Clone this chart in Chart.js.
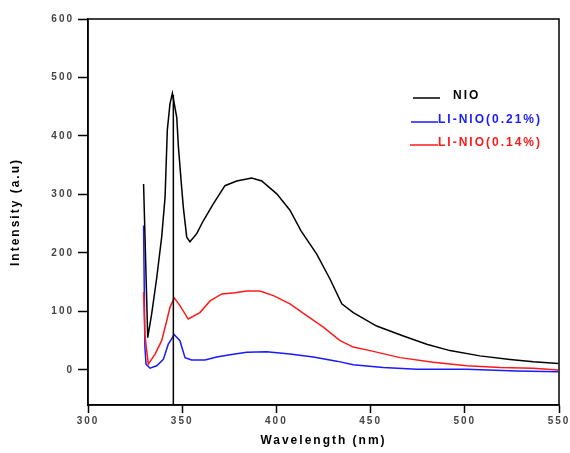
<!DOCTYPE html>
<html>
<head>
<meta charset="utf-8">
<script src="https://cdn.jsdelivr.net/npm/chart.js@4.4.1/dist/chart.umd.min.js"></script>
<style>
  html, body { margin: 0; padding: 0; background: #fff; }
  #wrap { width: 570px; height: 453px; }
</style>
</head>
<body>
<div id="wrap"><canvas id="pl"></canvas></div>
<script>
// values (wavelength in nm, intensity in a.u.)
const nioX  = [329.5, 331.7, 333.8, 336.5, 339.1, 340.9, 342.1, 343.5, 344.8, 347.1, 348, 349.4, 350.6, 352.4, 354.1, 357.7, 361.2, 366.5, 372.7, 378.9, 386.9, 392.2, 400.2, 407.2, 413, 421.4, 428.5, 434.7, 440.8, 453.2, 467.4, 479.8, 492.1, 508, 524, 536.4, 549.6];
const nioY  = [318, 55, 96, 158, 227, 295, 410, 455, 473, 432, 381, 324, 278, 227, 219, 233, 255, 284, 315, 323, 328, 323, 301, 273, 238, 198, 155, 113, 98, 75, 58, 44, 33, 24, 18, 14, 11];

const li21X = [329.5, 330.2, 330.8, 332.9, 336.5, 340, 342.6, 345.8, 348.8, 351.5, 355, 362.1, 368.3, 375.4, 384.2, 394.8, 407.2, 419.6, 432, 440.8, 456.7, 474.5, 501, 527.5, 549.6];
const li21Y = [247, 40, 10, 3, 7, 18, 44, 60, 50, 21, 17, 17, 22, 26, 30, 31, 27, 22, 15, 9, 4, 1, 1, -2, -3];

const li14X = [329.5, 330.2, 332, 335.6, 339.1, 341.8, 343.5, 345.8, 348.8, 353.2, 359.4, 364.8, 371, 378, 384.2, 391.3, 398.4, 407.2, 416.1, 424.9, 433.8, 440.8, 449.7, 465.6, 483.3, 501, 518.7, 536.2, 549.6];
const li14Y = [133, 60, 10, 27, 50, 84, 107, 123, 110, 87, 98, 118, 130, 132, 135, 135, 127, 113, 93, 73, 50, 39, 33, 21, 13, 7, 4, 3, 0];

// the stray vertical stroke at the NiO peak
const spikeX = [345.3, 345.3];
const spikeY = [470, -60];

const seriesNames = ["NIO", "LI-NIO(0.21%)", "LI-NIO(0.14%)"];
const seriesColors = ["#000000", "#1a1aff", "#ff1a1a"];

const xTicks = [300, 350, 400, 450, 500, 550];
const yTicks = [0, 100, 200, 300, 400, 500, 600];

const pts = (xs, ys) => xs.map((x, i) => ({ x: x, y: ys[i] }));

const SPACING = "2px";
const setSpacing = (chart) => { chart.ctx.letterSpacing = SPACING; };

const framePlugin = {
  id: "frame",
  beforeLayout: setSpacing,
  beforeDraw: setSpacing,
  afterDraw(chart) {
    const ctx = chart.ctx;
    const a = chart.chartArea;
    ctx.save();
    ctx.strokeStyle = "#000";
    ctx.lineWidth = 1.5;
    ctx.strokeRect(a.left, a.top, a.right - a.left, a.bottom - a.top);

    // legend inside the plot
    const rows = [
      { dx: 325, tx: 365, dy: 77, len: 27 },
      { dx: 323, tx: 350, dy: 101, len: 27 },
      { dx: 322, tx: 350, dy: 124, len: 28 }
    ];
    ctx.font = "bold 12px 'Liberation Sans', Arial, sans-serif";
    ctx.textBaseline = "middle";
    ctx.letterSpacing = SPACING;
    rows.forEach((r, i) => {
      ctx.strokeStyle = seriesColors[i];
      ctx.lineWidth = 1.5;
      ctx.beginPath();
      ctx.moveTo(a.left + r.dx, a.top + r.dy + 2);
      ctx.lineTo(a.left + r.dx + r.len, a.top + r.dy + 2);
      ctx.stroke();
      ctx.fillStyle = seriesColors[i];
      ctx.fillText(seriesNames[i], a.left + r.tx, a.top + r.dy);
    });
    ctx.restore();
  }
};

const lineStyle = (color) => ({
  borderColor: color,
  backgroundColor: color,
  borderWidth: 1.5,
  pointRadius: 0,
  tension: 0,
  fill: false
});

new Chart(document.getElementById("pl"), {
  type: "line",
  data: {
    datasets: [
      Object.assign({ label: seriesNames[0], data: pts(nioX, nioY) }, lineStyle(seriesColors[0])),
      Object.assign({ label: "spike", data: pts(spikeX, spikeY) }, lineStyle(seriesColors[0])),
      Object.assign({ label: seriesNames[2], data: pts(li14X, li14Y) }, lineStyle(seriesColors[2])),
      Object.assign({ label: seriesNames[1], data: pts(li21X, li21Y) }, lineStyle(seriesColors[1]))
    ]
  },
  options: {
    responsive: true,
    maintainAspectRatio: false,
    animation: false,
    layout: { padding: { left: 0, top: 19, right: 11, bottom: 0 } },
    plugins: {
      legend: { display: false },
      tooltip: { enabled: false }
    },
    scales: {
      x: {
        type: "linear",
        min: 300,
        max: 550,
        afterBuildTicks: (s) => { s.ticks = xTicks.map(v => ({ value: v })); },
        afterFit: (s) => { s.height = 48; s.paddingLeft = 0; s.paddingRight = 0; },
        grid: { drawOnChartArea: false, drawTicks: true, tickLength: 8, tickColor: "#000", tickWidth: 1.5 },
        border: { display: true, color: "#000", width: 1.5 },
        ticks: {
          color: "#444",
          padding: 2,
          maxRotation: 0,
          font: { family: "'Liberation Sans', Arial, sans-serif", size: 10, weight: "bold" }
        },
        title: {
          display: true,
          text: "Wavelength (nm)",
          color: "#000",
          padding: { top: 0, bottom: 5 },
          font: { family: "'Liberation Sans', Arial, sans-serif", size: 12, weight: "bold" }
        }
      },
      y: {
        type: "linear",
        min: -60,
        max: 600,
        afterBuildTicks: (s) => { s.ticks = yTicks.map(v => ({ value: v })); },
        afterFit: (s) => { s.width = 88; s.paddingTop = 0; s.paddingBottom = 0; },
        grid: { drawOnChartArea: false, drawTicks: true, tickLength: 10, tickColor: "#000", tickWidth: 1.5 },
        border: { display: true, color: "#000", width: 1.5 },
        ticks: {
          color: "#444",
          padding: 4,
          font: { family: "'Liberation Sans', Arial, sans-serif", size: 10, weight: "bold" }
        },
        title: {
          display: true,
          text: "Intensity (a.u)",
          color: "#000",
          padding: { top: 8, bottom: 0 },
          font: { family: "'Liberation Sans', Arial, sans-serif", size: 12, weight: "bold" }
        }
      }
    }
  },
  plugins: [framePlugin]
});
</script>
</body>
</html>
